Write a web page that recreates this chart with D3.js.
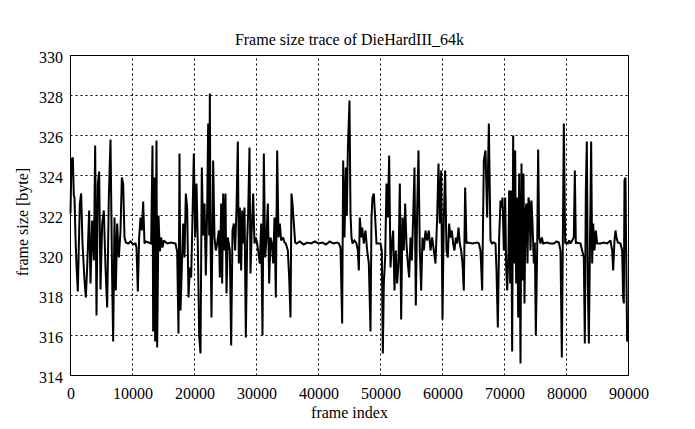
<!DOCTYPE html>
<html>
<head>
<meta charset="utf-8">
<script src="https://cdn.jsdelivr.net/npm/d3@7"></script>
<style>
  html, body { margin: 0; padding: 0; background: #fff; }
  svg { display: block; font-family: "Liberation Serif", "DejaVu Serif", serif; }
</style>
</head>
<body>
<svg id="chart" width="695" height="429"></svg>
<script>
const title = "Frame size trace of DieHardIII_64k";
const xLabel = "frame index";
const yLabel = "frame size [byte]";
const xTicks = [0, 10000, 20000, 30000, 40000, 50000, 60000, 70000, 80000, 90000];
const yTicks = [314, 316, 318, 320, 322, 324, 326, 328, 330];

const frameIndex = [
0,161,376,538,645,806,968,1183,1344,1505,1720,1935,2258,2473,2688,3011,3226,3495,3763,3978,
4193,4409,4624,4839,5108,5376,5645,5914,6183,6452,6720,6882,7097,7312,7527,7796,8065,8280,8495,8710,
8925,9300,9700,10100,10484,10645,10860,11075,11290,11505,11720,11935,12151,12600,13011,13226,13333,13548,13656,13871,
13978,14194,14409,14624,14839,15054,15591,16200,16935,17204,17419,17581,17742,17957,18172,18387,18602,18817,19032,19247,
19462,19677,19892,20108,20323,20538,20753,20968,21183,21398,21613,21828,22043,22204,22366,22473,22581,22742,23011,23226,
23441,23656,23925,24086,24301,24462,24624,24839,25000,25161,25376,25699,25914,26129,26344,26559,26774,26989,27151,27312,
27527,27688,27849,28064,28280,28495,28656,28871,29032,29194,29462,29677,29892,30108,30538,30753,30968,31183,31398,31613,
31828,32043,32258,32473,32688,32903,33118,33333,33548,33763,33978,34301,34516,34731,35054,35269,35484,35645,35806,36022,
36237,36452,37000,37600,38200,38800,39400,40000,40600,41200,41800,42400,43000,43280,43548,43817,43978,44194,44409,44570,
44731,44999,45161,45323,45484,45806,46129,46344,46505,46666,46881,47043,47312,47580,47849,48118,48387,48548,48710,48924,
49140,49354,50000,50215,50376,50537,50752,50967,51182,51397,51612,51827,52042,52257,52472,52687,52902,53117,53332,53547,
53762,53977,54192,54407,54622,54837,55052,55267,55482,55697,55912,56127,56342,56557,56772,56987,57256,57525,57794,58063,
58332,58600,58869,59138,59353,59568,59783,59998,60213,60428,60643,60858,61073,61288,61503,61718,61933,62148,62363,62578,
62793,63008,63223,63438,63653,63868,64083,64800,65590,65859,66128,66398,66667,66935,67204,67473,67742,67957,68279,68548,
68709,68925,69140,69355,69516,69677,69892,70107,70269,70430,70645,70752,70914,71075,71236,71397,71559,71720,71881,72043,
72204,72365,72580,72741,72903,73064,73225,73387,73548,73709,73870,74032,74193,74354,74516,74731,74892,75053,75268,75430,
75591,75806,76021,76236,76881,77400,77956,78400,78763,79032,79246,79407,79569,79784,79999,80214,80429,80644,81182,81343,
81504,81719,82257,82526,82795,82956,83118,83279,83440,83602,83763,83978,84139,84300,84515,84730,84945,85483,86021,86558,
87096,87365,87526,87740,87901,88063,88278,88707,88976,89138,89246,89353,89514,89622,89783,89944
];

const frameSize = [
322.1,324.8,324.9,323.0,322.9,320.9,319.5,318.2,320.5,322.6,323.1,320.6,318.75,317.9,319.4,322.25,318.6,321.75,319.75,325.5,
317.0,323.6,324.2,318.3,321.6,322.25,319.4,317.4,322.9,325.8,318.75,315.7,321.9,318.25,321.6,319.9,321.2,323.9,323.6,320.9,
320.65,320.6,320.7,320.55,320.6,320.4,318.2,320.9,321.9,321.25,322.7,320.6,320.7,320.65,320.6,325.5,316.2,323.9,315.7,325.75,
315.4,322.0,320.2,320.9,320.4,320.75,320.6,320.65,320.6,320.2,316.1,325.1,317.25,319.4,321.6,319.9,323.1,322.4,317.9,319.4,
318.9,321.9,325.1,320.9,323.6,320.5,316.0,315.1,324.4,321.0,322.6,319.0,322.3,326.6,321.0,328.1,321.0,316.9,324.75,320.9,
320.25,320.6,321.25,318.9,322.6,318.6,323.1,320.25,323.1,318.1,320.9,320.25,315.5,321.25,321.6,320.25,322.35,325.7,319.6,322.4,
319.25,322.25,320.6,322.4,315.9,320.75,322.1,325.4,319.1,320.9,323.1,320.6,320.9,320.6,319.6,321.6,316.0,325.1,319.9,320.9,
322.6,318.6,320.9,320.6,319.6,321.9,317.9,325.25,320.9,321.6,320.75,320.9,320.65,320.6,320.25,318.9,316.9,323.1,322.6,321.6,
320.65,320.6,320.7,320.55,320.65,320.6,320.7,320.6,320.65,320.55,320.7,320.6,320.65,320.6,320.4,316.6,324.75,320.9,324.4,322.0,
325.25,327.75,322.1,320.9,320.6,320.75,320.6,320.25,319.25,321.9,320.9,321.4,320.6,321.25,320.25,319.6,316.2,321.9,322.9,323.1,
321.9,320.6,320.6,320.25,315.1,318.6,319.9,323.6,321.9,325.0,319.4,320.6,321.25,318.25,320.25,318.6,319.6,323.6,316.8,321.9,
320.25,322.6,320.6,319.6,318.9,320.9,319.75,321.9,324.4,317.5,322.25,325.25,320.25,318.25,320.9,320.25,321.25,320.75,321.25,320.25,
320.9,320.25,319.6,321.9,324.6,321.6,324.25,316.8,321.9,324.25,320.25,319.9,321.6,320.9,321.25,320.6,320.25,320.9,320.6,321.4,
320.6,320.25,319.6,318.25,323.4,320.6,320.65,320.6,320.65,320.6,320.25,318.25,324.75,325.25,321.9,326.6,320.75,320.6,320.65,320.6,
319.25,316.4,320.9,322.75,322.4,322.9,320.25,322.9,319.4,318.25,320.25,323.25,318.6,323.25,315.2,326.0,319.6,325.25,318.6,322.9,
316.9,324.1,314.6,324.6,318.75,324.1,317.6,322.25,322.6,319.6,322.9,322.6,320.25,322.75,321.6,319.6,320.65,316.0,320.25,325.3,
320.9,320.6,320.9,320.6,320.65,320.6,320.6,320.7,320.65,320.25,314.9,320.6,326.6,320.6,320.65,320.6,320.75,320.6,320.9,324.25,
320.6,320.65,320.6,320.25,319.9,315.6,323.25,325.7,318.6,315.6,319.9,325.7,319.6,321.6,320.25,321.25,320.6,320.6,320.65,320.6,
320.75,320.25,319.25,320.75,321.25,320.9,320.65,320.6,320.25,317.9,317.6,323.75,323.9,320.25,315.7,316.0
];

const data = frameIndex.map((f, i) => ({ f, v: frameSize[i] }));

const svg = d3.select("#chart");
const x = d3.scaleLinear().domain([0, 90000]).range([70.5, 628.5]);
const y = d3.scaleLinear().domain([314, 330]).range([375.5, 55.5]);

// grid
const grid = svg.append("g").attr("stroke", "#000").attr("stroke-width", 1).attr("stroke-dasharray", "2,3");
grid.selectAll("line.gx").data(xTicks.slice(1, -1)).join("line")
  .attr("x1", d => x(d)).attr("x2", d => x(d))
  .attr("y1", y(314)).attr("y2", y(330));
grid.selectAll("line.gy").data(yTicks.slice(1, -1)).join("line")
  .attr("x1", x(0)).attr("x2", x(90000))
  .attr("y1", d => y(d)).attr("y2", d => y(d));

// data line
svg.append("path").datum(data)
  .attr("fill", "none").attr("stroke", "#000").attr("stroke-width", 2)
  .attr("stroke-linejoin", "miter").attr("stroke-miterlimit", 2)
  .attr("d", d3.line().x(d => x(d.f)).y(d => y(d.v)));

// border
svg.append("rect")
  .attr("x", x(0)).attr("y", y(330))
  .attr("width", x(90000) - x(0)).attr("height", y(314) - y(330))
  .attr("fill", "none").attr("stroke", "#000").attr("stroke-width", 1);

// axes
const xAxis = svg.append("g").attr("transform", `translate(0,${y(314)})`)
  .call(d3.axisBottom(x).tickValues(xTicks).tickFormat(d3.format("d")).tickSize(0).tickPadding(12));
const yAxis = svg.append("g").attr("transform", `translate(${x(0)},0)`)
  .call(d3.axisLeft(y).tickValues(yTicks).tickFormat(d3.format("d")).tickSize(0).tickPadding(7.5));
[xAxis, yAxis].forEach(g => {
  g.select(".domain").remove();
  g.selectAll("text").attr("font-family", "Liberation Serif, serif").attr("font-size", 16).attr("fill", "#000");
});
yAxis.selectAll("text").attr("dy", "0.45em");

// labels
svg.append("text").attr("x", 349.5).attr("y", 45).attr("text-anchor", "middle")
  .attr("font-size", 16).text(title);
svg.append("text").attr("x", 349.5).attr("y", 418).attr("text-anchor", "middle")
  .attr("font-size", 16).text(xLabel);
svg.append("text").attr("transform", "translate(28,222) rotate(-90)").attr("text-anchor", "middle")
  .attr("font-size", 16).text(yLabel);
</script>
</body>
</html>
